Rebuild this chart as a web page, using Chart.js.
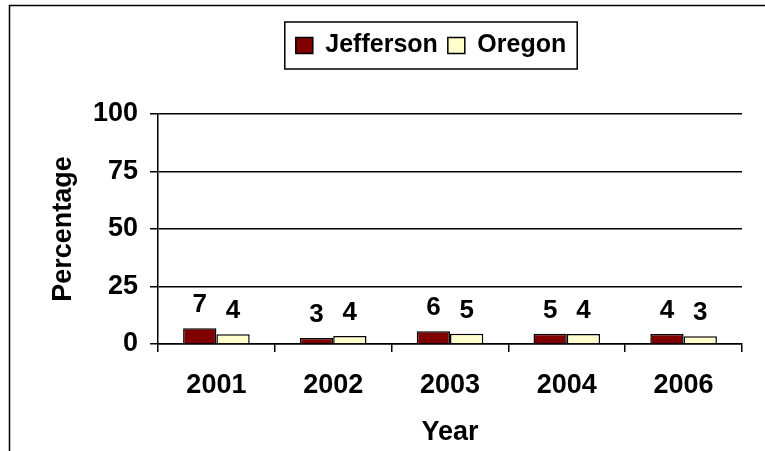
<!DOCTYPE html>
<html>
<head>
<meta charset="utf-8">
<script src="https://cdn.jsdelivr.net/npm/chart.js@4/dist/chart.umd.min.js"></script>
<style>
html,body{margin:0;padding:0;background:#fff;}
#wrap{width:765px;height:451px;position:relative;}
</style>
</head>
<body>
<div id="wrap"><canvas id="chart" width="765" height="451"></canvas></div>
<script>

const years = ["2001","2002","2003","2004","2006"];

const jefferson = [6.9,2.6,5.5,4.5,4.4];

const oregon = [4.2,3.5,4.5,4.4,3.4];

const yTicks = [0,25,50,75,100];

const FONT = "'Liberation Sans', Arial, sans-serif";

// frame round the chart (only top and left are in view)
const framePlugin = {
id:"frame",
beforeDraw(chart){
const ctx = chart.ctx;
ctx.save();
ctx.strokeStyle = "#000";
ctx.lineWidth = 1.5;
ctx.beginPath();
ctx.moveTo(9.5,460);
ctx.lineTo(9.5,5.5);
ctx.lineTo(780,5.5);
ctx.stroke();
ctx.restore();
}
};

// box round the legend items
const legendBoxPlugin = {
id:"legendBox",
afterDraw(chart){
const boxes = chart.legend.legendHitBoxes;
if(!boxes || !boxes.length) return;
const left = Math.min(...boxes.map(b=>b.left));
const right = Math.max(...boxes.map(b=>b.left+b.width));
const top = Math.min(...boxes.map(b=>b.top));
const bottom = Math.max(...boxes.map(b=>b.top+b.height));
const ctx = chart.ctx;
ctx.save();
ctx.strokeStyle = "#000";
ctx.lineWidth = 1.5;
ctx.strokeRect(left-11,top-11,right-left+22,bottom-top+22);
ctx.restore();
}
};

// rounded values above each bar
const valueLabelPlugin = {
id:"valueLabels",
afterDatasetsDraw(chart){
const ctx = chart.ctx;
ctx.save();
ctx.font = "bold 26px " + FONT;
ctx.fillStyle = "#000";
ctx.textAlign = "center";
ctx.textBaseline = "alphabetic";
chart.data.datasets.forEach((ds,i)=>{
chart.getDatasetMeta(i).data.forEach((bar,j)=>{
ctx.fillText(String(Math.round(ds.data[j])),bar.x,bar.y-16);
});
});
ctx.restore();
}
};

// extra room under the legend, and legend centred a bit to the right
const legendSpacePlugin = {
id:"legendSpace",
beforeInit(chart){
const origFit = chart.legend.fit;
chart.legend.fit = function(){
origFit.call(this);
this.height += 46;
};
},
afterLayout(chart){
chart.legend.left += 110;
}
};

new Chart(
document.getElementById("chart"),
{
type:"bar",
data:{
labels:years,
datasets:[
{
label:"Jefferson",
data:jefferson,
backgroundColor:"#800000",
borderColor:"#000",
borderWidth:1.5,
categoryPercentage:0.57,
barPercentage:1
},
{
label:"Oregon",
data:oregon,
backgroundColor:"#FFFFCC",
borderColor:"#000",
borderWidth:1.5,
categoryPercentage:0.57,
barPercentage:1
}
]
},
options:{
responsive:false,
animation:false,
layout:{
padding:{left:10,right:23,top:23,bottom:0}
},
plugins:{
tooltip:{enabled:false},
legend:{
position:"top",
labels:{
boxWidth:17,
boxHeight:16,
padding:10,
color:"#000",
font:{family:FONT,size:25,weight:"bold"}
}
}
},
scales:{
x:{
offset:true,
grid:{
offset:true,
drawOnChartArea:false,
drawTicks:true,
tickLength:8,
color:"#000",
lineWidth:1.5
},
border:{display:true,color:"#000",width:1.5},
ticks:{
padding:17,
color:"#000",
font:{family:FONT,size:27,weight:"bold"}
},
title:{
display:true,
text:"Year",
color:"#000",
padding:{top:0,bottom:2},
font:{family:FONT,size:27,weight:"bold"}
},
afterFit(scale){
scale.height = 107;
}
},
y:{
min:0,
max:100,
afterBuildTicks(scale){
scale.ticks = yTicks.map(v=>({value:v}));
},
grid:{
color:"#000",
lineWidth:1.5,
tickLength:8
},
border:{display:true,color:"#000",width:1.5},
ticks:{
padding:12,
color:"#000",
font:{family:FONT,size:27,weight:"bold"}
},
title:{
display:true,
text:"Percentage",
color:"#000",
padding:{top:37,bottom:0},
font:{family:FONT,size:27,weight:"bold"}
},
afterFit(scale){
scale.width = 148;
}
}
}
},
plugins:[framePlugin,legendBoxPlugin,valueLabelPlugin,legendSpacePlugin]
}
);

</script>
</body>
</html>
